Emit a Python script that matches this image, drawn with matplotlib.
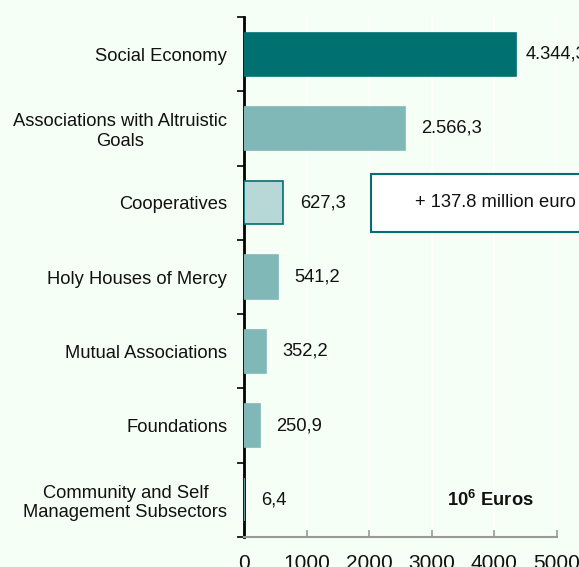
import matplotlib.pyplot as plt
import numpy as np
from matplotlib.patches import Rectangle

plt.rcParams['font.family'] = ['Liberation Sans', 'DejaVu Sans']
plt.rcParams['mathtext.fontset'] = 'custom'
plt.rcParams['mathtext.rm'] = 'Liberation Sans'
plt.rcParams['mathtext.bf'] = 'Liberation Sans:bold'

# sectors, top to bottom
sectors = ['Social Economy', 'Associations with Altruistic\nGoals', 'Cooperatives',
           'Holy Houses of Mercy', 'Mutual Associations', 'Foundations',
           'Community and Self\nManagement Subsectors']
values = [4344.3, 2566.3, 627.3, 541.2, 352.2, 250.9, 6.4]
value_labels = ['4.344,3', '2.566,3', '627,3', '541,2', '352,2', '250,9', '6,4']
xticks = [0, 1000, 2000, 3000, 4000, 5000]

bg = '#F6FFF6'
dark = '#007070'
mid = '#80B8B8'
light = '#B8D8D8'
fs = 13.2

fig = plt.figure(figsize=(5.79, 5.67), dpi=100, facecolor=bg)
ax = fig.add_axes([0.4214, 0.0529, 0.5406, 0.9171], facecolor=bg)

y = np.arange(len(sectors))
colors = [dark, mid, light, mid, mid, mid, mid]
edges = [dark, mid, dark, mid, mid, mid, mid]
ax.barh(y, values, height=0.58, color=colors, edgecolor=edges, linewidth=1.2, zorder=3)

ax.set_ylim(len(sectors) - 0.5, -0.5)
ax.set_xlim(0, 5000)

# value labels next to the bars
for i, (v, lab) in enumerate(zip(values, value_labels)):
    off = 7 if i == 0 else 12
    ax.annotate(lab, (v, i), xytext=(off, 0), textcoords='offset points',
                ha='left', va='center', fontsize=fs, color='#111111',
                annotation_clip=False, zorder=4)

# note box beside the cooperatives bar
ax.add_patch(Rectangle((2030, 2 - 0.39), 4000, 0.78, facecolor='white', edgecolor=dark,
                       linewidth=1.5, clip_on=False, zorder=4))
ax.text(2735, 2, '+ 137.8 million euro', ha='left', va='center', fontsize=fs,
        color='#111111', zorder=5)

ax.text(3245, 6, r'$\mathbf{10^6}$ Euros', ha='left', va='center', fontsize=fs,
        fontweight='bold', color='#111111')

# category labels, boundary ticks on the y axis
ax.set_yticks(np.arange(-0.5, len(sectors), 1.0))
ax.set_yticklabels([])
ax.set_yticks(y, minor=True)
ax.set_yticklabels(sectors, minor=True, fontsize=fs, color='#111111')
for t in ax.get_yticklabels(minor=True):
    t.set_multialignment('center')
ax.tick_params(axis='y', which='minor', length=0, pad=12)
ax.tick_params(axis='y', which='major', length=5, width=1.2, color='black', direction='out')

ax.set_xticks(xticks)
ax.set_xticklabels([str(t) for t in xticks], fontsize=15, color='#111111')
ax.tick_params(axis='x', direction='in', length=5, width=1.2, color='#999999', pad=12)

ax.grid(axis='x', color='white', linewidth=1.2, zorder=0)

for s in ['top', 'right']:
    ax.spines[s].set_visible(False)
ax.spines['left'].set_color('black')
ax.spines['left'].set_linewidth(2)
ax.spines['bottom'].set_color('#999999')
ax.spines['bottom'].set_linewidth(1.5)

fig.savefig('out.png', dpi=100, facecolor=bg)
